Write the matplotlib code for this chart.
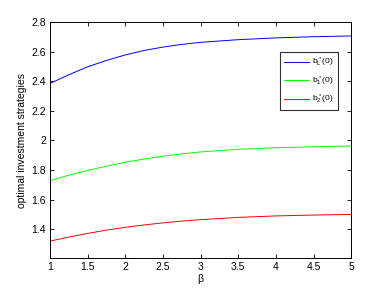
import matplotlib
matplotlib.use("Agg")
import matplotlib.pyplot as plt

# values
beta = [1.0, 1.25, 1.5, 1.75, 2.0, 2.25, 2.5, 2.75, 3.0, 3.5, 4.0, 4.5, 5.0]
b_L = [2.385, 2.443, 2.497, 2.540, 2.577, 2.607, 2.630, 2.648, 2.662, 2.680, 2.692, 2.700, 2.705]
b_1 = [1.728, 1.765, 1.797, 1.826, 1.852, 1.874, 1.893, 1.909, 1.922, 1.940, 1.950, 1.957, 1.962]
b_2 = [1.320, 1.347, 1.372, 1.394, 1.413, 1.429, 1.443, 1.455, 1.465, 1.480, 1.490, 1.496, 1.500]

labels = [r'$b^*_L(0)$', r'$b^*_1(0)$', r'$b^*_2(0)$']
xticks = [1, 1.5, 2, 2.5, 3, 3.5, 4, 4.5, 5]
yticks = [1.4, 1.6, 1.8, 2.0, 2.2, 2.4, 2.6, 2.8]
yticklabels = ['1.4', '1.6', '1.8', '2', '2.2', '2.4', '2.6', '2.8']

plt.rcParams['font.family'] = ['Liberation Sans', 'DejaVu Sans']
plt.rcParams['mathtext.fontset'] = 'custom'
plt.rcParams['mathtext.rm'] = 'Liberation Sans'
plt.rcParams['mathtext.it'] = 'Liberation Sans'

fig = plt.figure(figsize=(3.88, 2.92), dpi=100)
ax = fig.add_axes([0.129, 0.116, 0.776, 0.809])

ax.plot(beta, b_L, color=(0, 0, 1), lw=0.7, label=labels[0])
ax.plot(beta, b_1, color=(0, 1, 0), lw=0.7, label=labels[1])
ax.plot(beta, b_2, color=(1, 0, 0), lw=0.7, label=labels[2])

ax.set_xlim(1, 5)
ax.set_ylim(1.205, 2.8)
ax.set_xticks(xticks)
ax.set_xticklabels(['1', '1.5', '2', '2.5', '3', '3.5', '4', '4.5', '5'])
ax.set_yticks(yticks)
ax.set_yticklabels(yticklabels)
ax.tick_params(direction='in', top=True, right=True, length=3, width=0.6, labelsize=7.5, pad=3)
for s in ax.spines.values():
    s.set_linewidth(0.7)

ax.set_xlabel('β', fontsize=7.5, labelpad=1)
ax.set_ylabel('optimal investment strategies', fontsize=7.5, labelpad=3)

leg = ax.legend(loc='upper right', bbox_to_anchor=(0.871, 0.822), bbox_transform=fig.transFigure,
                borderaxespad=0, fancybox=False, edgecolor='black', fontsize=6,
                handlelength=3.0, labelspacing=0.6, borderpad=0.5, handletextpad=0.4)
leg.get_frame().set_linewidth(0.8)

fig.savefig('out.png', dpi=100)
